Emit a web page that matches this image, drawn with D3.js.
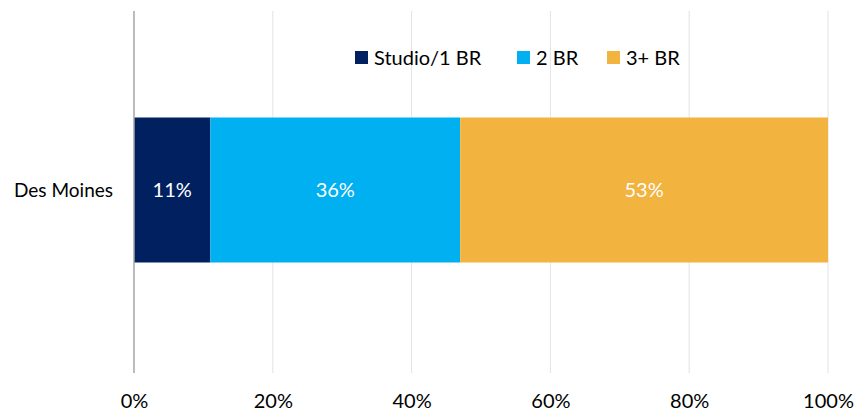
<!DOCTYPE html>
<html>
<head>
<meta charset="utf-8">
<script src="https://cdn.jsdelivr.net/npm/d3@7"></script>
<style>
body { margin: 0; background: #fff; }
text { font-family: Lato, "Open Sans", sans-serif; }
</style>
</head>
<body>
<script>
var categories = ["Des Moines"];
var seriesNames = ["Studio/1 BR", "2 BR", "3+ BR"];
var seriesColors = ["#002060", "#00B0F0", "#F2B33F"];
var studio = [11];
var twoBr = [36];
var threeBr = [53];
var tickValues = [0, 20, 40, 60, 80, 100];

var width = 858, height = 413;
var margin = {left: 134, right: 30, top: 11, bottom: 40};

var svg = d3.select("body").append("svg")
	.attr("width", width)
	.attr("height", height);

var x = d3.scaleLinear().domain([0, 100]).range([margin.left, 828]);
var y = d3.scaleBand().domain(categories).range([9, 371]).padding(0.428);

// gridlines
svg.selectAll("line.grid")
	.data(tickValues.slice(1))
	.enter()
	.append("line")
	.attr("x1", function (d) {return x(d);})
	.attr("x2", function (d) {return x(d);})
	.attr("y1", margin.top)
	.attr("y2", 373)
	.attr("stroke", "#e3e3e3")
	.attr("stroke-width", 1);

// stack data
var rows = categories.map(function (c, i) {
	return {cat: c, "Studio/1 BR": studio[i], "2 BR": twoBr[i], "3+ BR": threeBr[i]};
});
var stacked = d3.stack().keys(seriesNames)(rows);

var groups = svg.selectAll("g.series")
	.data(stacked)
	.enter()
	.append("g")
	.attr("fill", function (d, i) {return seriesColors[i];});

groups.selectAll("rect")
	.data(function (d) {return d;})
	.enter()
	.append("rect")
	.attr("x", function (d) {return x(d[0]);})
	.attr("width", function (d) {return x(d[1]) - x(d[0]);})
	.attr("y", function (d) {return y(d.data.cat);})
	.attr("height", y.bandwidth());

groups.selectAll("text")
	.data(function (d) {return d.map(function (v) {return {v: v, key: d.key};});})
	.enter()
	.append("text")
	.attr("x", function (d) {return (x(d.v[0]) + x(d.v[1])) / 2;})
	.attr("y", function (d) {return y(d.v.data.cat) + y.bandwidth() / 2;})
	.attr("dy", "0.35em")
	.attr("text-anchor", "middle")
	.attr("fill", "#fff")
	.style("font-size", "20px")
	.text(function (d) {return d.v.data[d.key] + "%";});

// y axis line
svg.append("line")
	.attr("x1", margin.left)
	.attr("x2", margin.left)
	.attr("y1", margin.top)
	.attr("y2", 373)
	.attr("stroke", "#a6a6a6")
	.attr("stroke-width", 1.5);

// category labels
svg.selectAll("text.cat")
	.data(categories)
	.enter()
	.append("text")
	.attr("x", 113)
	.attr("y", function (d) {return y(d) + y.bandwidth() / 2;})
	.attr("dy", "0.35em")
	.attr("text-anchor", "end")
	.attr("fill", "#000")
	.style("font-size", "19px")
	.text(function (d) {return d;});

// x tick labels
var xAxis = d3.axisBottom(x).tickValues(tickValues).tickSize(0).tickFormat(function (d) {return d + "%";});
var axisG = svg.append("g")
	.attr("transform", "translate(0,391)")
	.call(xAxis);
axisG.select(".domain").remove();
axisG.selectAll("text")
	.attr("fill", "#000")
	.style("font-size", "20px")
	.style("font-family", "Lato, 'Open Sans', sans-serif");

// legend
var legendX = [355, 517, 607];
var legend = svg.selectAll("g.legend")
	.data(seriesNames)
	.enter()
	.append("g")
	.attr("transform", function (d, i) {return "translate(" + legendX[i] + ",51)";});
legend.append("rect")
	.attr("width", 13)
	.attr("height", 13)
	.attr("fill", function (d, i) {return seriesColors[i];});
legend.append("text")
	.attr("x", 19)
	.attr("y", 7)
	.attr("dy", "0.35em")
	.attr("fill", "#000")
	.style("font-size", "20px")
	.text(function (d) {return d;});
</script>
</body>
</html>
